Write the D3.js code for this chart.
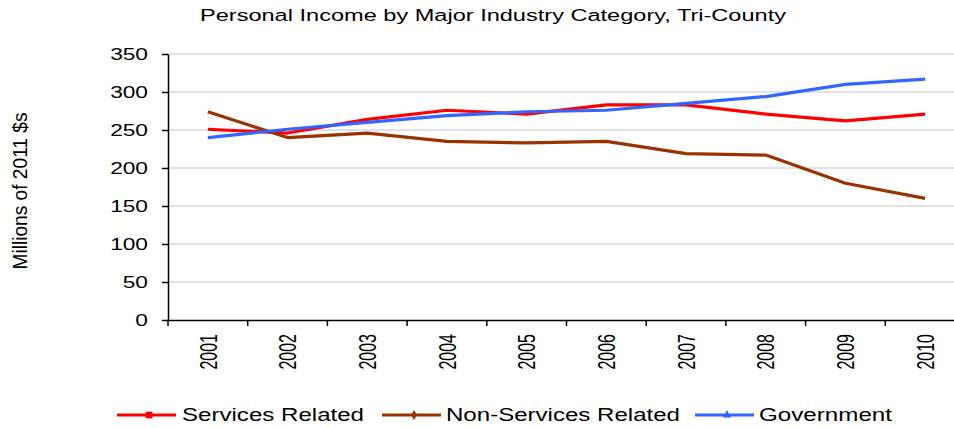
<!DOCTYPE html>
<html>
<head>
<meta charset="utf-8">
<script src="https://cdn.jsdelivr.net/npm/d3@7"></script>
<style>
  body { margin: 0; background: #fff; }
  text { font-family: "Liberation Sans", Arial, sans-serif; fill: #000; }
</style>
</head>
<body>
<script>
var years = ["2001", "2002", "2003", "2004", "2005", "2006", "2007", "2008", "2009", "2010"];
var servicesRelated = [251, 246, 264, 276, 271, 283, 283, 271, 262, 271];
var nonServicesRelated = [274, 240, 246, 235, 233, 235, 219, 217, 180, 160];
var government = [240, 251, 260, 269, 274, 276, 285, 294, 310, 317];
var yTicks = [0, 50, 100, 150, 200, 250, 300, 350];

var seriesNames = ["Services Related", "Non-Services Related", "Government"];
var seriesColors = ["#ff0000", "#993300", "#3366ff"];
var seriesValues = [servicesRelated, nonServicesRelated, government];

var width = 954, height = 428;
var m = { left: 168, right: 965, top: 54, bottom: 320 };
var stretch = 1.42; // the reference text is wider than it is tall

var svg = d3.select("body").append("svg").attr("width", width).attr("height", height);

var x = d3.scaleBand().domain(years).range([m.left, m.right]);
var y = d3.scaleLinear().domain([0, 350]).range([m.bottom, m.top]);

// gridlines
svg.append("g").selectAll("line")
  .data(yTicks.filter(function(d){ return d > 0; }))
  .enter().append("line")
  .attr("x1", m.left).attr("x2", m.right)
  .attr("y1", function(d){ return y(d); }).attr("y2", function(d){ return y(d); })
  .attr("stroke", "#d9d9d9").attr("stroke-width", 1.5);

// y axis
var yAxis = svg.append("g").attr("transform", "translate(" + m.left + ",0)")
  .call(d3.axisLeft(y).tickValues(yTicks).tickSize(6).tickSizeOuter(0));
yAxis.select(".domain").attr("stroke", "#000").attr("stroke-width", 1.5);
yAxis.selectAll(".tick line").attr("stroke", "#000").attr("stroke-width", 1.5);
yAxis.selectAll(".tick text")
  .attr("x", 0)
  .attr("transform", "translate(-20,0) scale(" + stretch + ",1)")
  .style("font-size", "16px");

// x axis
var xAxis = svg.append("g").attr("transform", "translate(0," + m.bottom + ")")
  .call(d3.axisBottom(x).tickSize(0).tickSizeOuter(0));
xAxis.select(".domain").attr("stroke", "#000").attr("stroke-width", 1.5);
xAxis.selectAll(".tick text")
  .attr("x", 0).attr("y", 0).attr("dy", "0.35em")
  .attr("transform", "translate(0,14) scale(1.55,1) rotate(-90)")
  .style("text-anchor", "end").style("font-size", "16px");
svg.append("g").selectAll("line")
  .data(years.concat(["end"]))
  .enter().append("line")
  .attr("x1", function(d, i){ return m.left + i * x.step(); })
  .attr("x2", function(d, i){ return m.left + i * x.step(); })
  .attr("y1", m.bottom).attr("y2", m.bottom + 6)
  .attr("stroke", "#000").attr("stroke-width", 1.5);

// lines
var line = d3.line()
  .x(function(d, i){ return x(years[i]) + x.bandwidth() / 2; })
  .y(function(d){ return y(d); });

svg.append("g").selectAll("path")
  .data(seriesValues)
  .enter().append("path")
  .attr("d", line)
  .attr("fill", "none")
  .attr("stroke", function(d, i){ return seriesColors[i]; })
  .attr("stroke-width", 3.2)
  .attr("stroke-linejoin", "round");

// title
svg.append("text").attr("x", 493).attr("y", 21)
  .attr("text-anchor", "middle").style("font-size", "16px")
  .attr("textLength", 586).attr("lengthAdjust", "spacingAndGlyphs")
  .text("Personal Income by Major Industry Category, Tri-County");

// y label
svg.append("text")
  .attr("transform", "translate(20,191) scale(" + stretch + ",1) rotate(-90)")
  .attr("text-anchor", "middle").attr("dy", "0.35em").style("font-size", "14.5px")
  .attr("textLength", 157).attr("lengthAdjust", "spacingAndGlyphs")
  .text("Millions of 2011 $s");

// legend
var legendX = [117, 382, 695];
var legendTextLen = [182, 234, 133];
var legend = svg.append("g").selectAll("g")
  .data(seriesNames)
  .enter().append("g")
  .attr("transform", function(d, i){ return "translate(" + legendX[i] + ",415)"; });
legend.append("line")
  .attr("x1", 0).attr("x2", 59).attr("y1", 0).attr("y2", 0)
  .attr("stroke", function(d, i){ return seriesColors[i]; })
  .attr("stroke-width", 3);
legend.append("path")
  .attr("transform", "translate(32,0)")
  .attr("d", function(d, i){
    var t = [d3.symbolSquare, d3.symbolDiamond, d3.symbolTriangle][i];
    var s = [45, 30, 30][i];
    return d3.symbol().type(t).size(s)();
  })
  .attr("fill", function(d, i){ return seriesColors[i]; });
legend.append("text")
  .attr("x", function(d, i){ return [65, 64, 64][i]; })
  .attr("dy", "0.35em")
  .style("font-size", "17.5px")
  .attr("textLength", function(d, i){ return legendTextLen[i]; })
  .attr("lengthAdjust", "spacingAndGlyphs")
  .text(function(d){ return d; });
</script>
</body>
</html>
